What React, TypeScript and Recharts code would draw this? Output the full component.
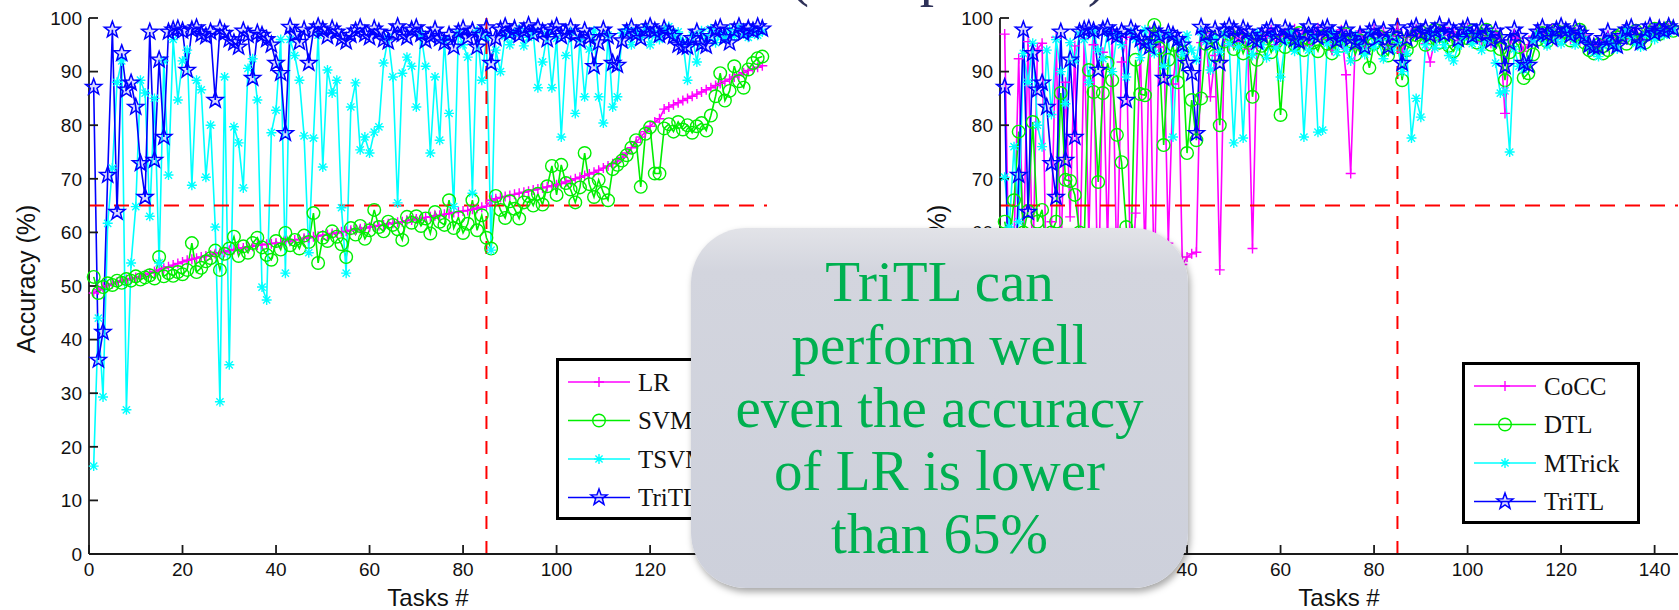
import { LineChart, Line, XAxis, YAxis, ReferenceLine, Legend, Label } from 'recharts';

// accuracy (%) per task, tasks sorted by LR accuracy
const lrLeft = [
  48.7, 49.3, 49.8, 50.1, 50.4, 50.7, 51.0, 51.2, 51.4, 51.6,
  51.8, 52.1, 52.4, 52.7, 53.0, 53.3, 53.6, 53.9, 54.2, 54.5,
  54.8, 55.0, 55.2, 55.4, 55.6, 55.8, 56.0, 56.2, 56.4, 56.6,
  56.8, 57.0, 57.1, 57.3, 57.4, 57.6, 57.7, 57.8, 57.9, 58.0,
  58.1, 58.3, 58.4, 58.6, 58.7, 58.9, 59.0, 59.2, 59.3, 59.5,
  59.6, 59.8, 59.9, 60.1, 60.2, 60.4, 60.5, 60.7, 60.8, 61.0,
  61.1, 61.3, 61.4, 61.6, 61.7, 61.9, 62.0, 62.2, 62.3, 62.5,
  62.6, 62.8, 62.9, 63.1, 63.2, 63.4, 63.5, 63.7, 63.8, 64.0,
  64.1, 64.3, 64.5, 64.7, 64.9, 66.0, 66.3, 66.5, 66.7, 66.9,
  67.1, 67.3, 67.5, 67.7, 67.9, 68.1, 68.3, 68.5, 68.7, 68.9,
  69.1, 69.4, 69.7, 70.0, 70.3, 70.6, 70.9, 71.2, 71.6, 72.0,
  72.4, 72.8, 73.3, 74.0, 74.8, 75.8, 76.8, 77.8, 78.8, 79.8,
  80.6, 81.2, 83.0, 83.4, 83.8, 84.2, 84.6, 85.0, 85.4, 85.8,
  86.2, 86.6, 87.0, 87.4, 87.8, 88.2, 88.6, 89.0, 89.4, 89.8,
  90.2, 90.5, 90.8, 91.1,
];

const svmLeft = [
  51.7, 48.7, 49.8, 50.5, 50.2, 51.0, 50.6, 51.3, 51.0, 51.8,
  51.2, 51.6, 52.0, 51.4, 55.4, 51.8, 52.4, 51.9, 52.6, 52.2,
  53.0, 58.0, 52.6, 53.4, 54.6, 55.2, 56.6, 53.0, 56.0, 57.0,
  59.2, 55.6, 57.4, 56.2, 58.0, 59.0, 57.2, 55.8, 54.9, 58.4,
  56.8, 59.9, 57.6, 58.6, 57.0, 59.4, 58.2, 63.6, 54.3, 59.0,
  58.4, 60.2, 59.2, 57.8, 55.4, 60.8, 59.6, 61.2, 58.8, 60.4,
  64.2, 61.0, 60.2, 62.0, 61.4, 60.6, 58.6, 62.9, 61.8, 63.0,
  61.2, 62.6, 59.8, 63.8, 62.0, 61.4, 66.0, 60.8, 62.8, 59.9,
  61.6, 66.0, 60.4, 63.2, 59.0, 57.0, 66.8, 64.2, 62.7, 65.8,
  64.4, 62.6, 65.6, 66.8, 65.0, 67.2, 65.2, 68.6, 72.4, 67.0,
  72.6, 69.2, 68.0, 65.6, 68.4, 74.8, 69.0, 66.6, 69.8, 67.4,
  66.0, 71.8, 72.6, 73.4, 74.4, 75.8, 77.2, 68.5, 78.4, 79.6,
  71.0, 71.0, 79.4, 80.2, 78.8, 80.6, 79.2, 80.0, 78.6, 79.8,
  80.4, 79.0, 81.8, 85.4, 89.7, 84.6, 86.4, 91.0, 88.2, 87.0,
  90.4, 91.6, 92.5, 92.8,
];

const tsvmLeft = [
  16.4, 44.0, 29.3, 61.7, 72.0, 88.0, 92.0, 26.9, 54.3, 64.8,
  88.4, 86.0, 63.0, 85.0, 54.3, 92.0, 70.7, 96.0, 84.7, 92.0,
  94.0, 68.8, 88.4, 86.6, 70.3, 80.0, 61.0, 28.4, 89.0, 35.3,
  79.7, 76.7, 68.3, 90.6, 92.4, 84.7, 49.8, 47.4, 78.6, 82.8,
  96.0, 52.4, 96.0, 93.0, 88.4, 78.0, 56.2, 77.6, 96.8, 72.2,
  90.3, 86.0, 88.4, 64.6, 52.4, 83.4, 87.9, 75.4, 77.8, 74.8,
  78.7, 79.7, 91.6, 96.4, 89.0, 65.5, 89.7, 92.7, 91.0, 83.4,
  97.0, 91.0, 74.8, 89.0, 77.2, 95.8, 82.2, 64.8, 97.2, 95.0,
  92.7, 67.3, 97.6, 88.4, 96.4, 56.7, 94.0, 90.0, 96.6, 95.0,
  97.2, 98.0, 94.8, 96.4, 97.4, 87.0, 91.8, 97.0, 87.0, 96.2,
  77.8, 93.0, 97.4, 82.2, 96.0, 85.3, 94.2, 97.6, 85.3, 80.4,
  96.8, 83.4, 85.3, 97.2, 98.0, 95.0, 97.6, 96.4, 98.2, 95.0,
  97.2, 96.0, 97.8, 98.4, 96.6, 97.4, 95.6, 88.4, 96.8, 91.8,
  97.6, 96.2, 98.0, 95.4, 97.0, 96.2, 97.8, 96.6, 98.2, 97.0,
  96.4, 97.6, 96.8, 97.4,
];

const tritl = [
  87.1, 36.2, 41.4, 70.7, 97.8, 63.8, 93.4, 86.6, 87.9, 83.4,
  72.9, 66.6, 97.4, 73.5, 92.2, 77.8, 97.4, 97.8, 98.0, 97.6,
  90.3, 97.8, 98.2, 97.0, 96.6, 97.4, 84.7, 98.0, 97.2, 96.0,
  95.4, 94.6, 97.6, 96.8, 88.8, 97.2, 96.8, 96.0, 95.0, 91.6,
  89.7, 78.5, 98.3, 97.0, 95.5, 97.8, 91.6, 97.6, 98.4, 97.8,
  96.6, 98.0, 97.4, 96.2, 95.6, 96.8, 97.6, 98.2, 97.0, 96.4,
  98.0, 97.4, 96.0, 95.6, 97.2, 98.4, 97.0, 96.4, 97.8, 98.2,
  97.0, 95.8, 96.6, 97.8, 96.2, 95.4, 96.8, 94.6, 97.4, 98.0,
  96.4, 97.6, 94.6, 96.8, 98.2, 91.6, 96.2, 97.8, 98.4, 97.2,
  98.0, 96.8, 97.6, 98.6, 97.0, 98.2, 97.4, 96.0, 97.8, 98.4,
  96.6, 97.2, 98.2, 97.0, 95.8, 97.6, 96.4, 91.0, 95.4, 97.8,
  96.6, 91.6, 91.2, 95.8, 97.4, 98.2, 97.0, 96.2, 97.8, 98.4,
  97.6, 96.8, 98.0, 97.2, 96.6, 95.0, 94.6, 94.6, 96.2, 97.4,
  95.2, 94.8, 96.6, 97.8, 98.2, 96.4, 95.4, 97.6, 98.4, 97.2,
  98.0, 97.6, 98.4, 98.0,
];

const coccRight = [
  97.0, 48.0, 58.0, 92.4, 56.0, 95.6, 52.0, 94.2, 95.3, 46.0,
  62.0, 96.4, 54.0, 88.0, 62.9, 94.8, 50.0, 96.2, 59.0, 95.0,
  44.0, 93.6, 58.0, 97.0, 52.0, 91.8, 96.4, 48.0, 63.6, 95.2,
  55.0, 97.6, 50.0, 94.6, 96.8, 58.0, 87.7, 96.0, 54.0, 55.4,
  56.0, 56.3, 95.4, 97.2, 85.3, 93.0, 53.0, 96.6, 94.8, 97.2,
  95.6, 96.8, 94.2, 57.0, 95.8, 97.4, 96.2, 97.8, 95.0, 96.6,
  97.2, 95.8, 98.0, 96.4, 97.6, 94.8, 97.0, 98.2, 96.0, 97.4,
  94.0, 96.8, 97.8, 89.4, 71.0, 96.2, 97.6, 95.4, 96.8, 98.0,
  96.2, 97.4, 95.0, 96.6, 97.8, 93.6, 96.4, 97.2, 98.0, 96.6,
  95.2, 91.8, 96.0, 97.6, 98.2, 96.8, 97.4, 95.8, 97.0, 98.2,
  96.4, 97.6, 95.6, 96.8, 95.3, 97.2, 96.0, 82.2, 94.8, 97.0,
  96.2, 93.8, 95.0, 96.6, 97.8, 96.4, 97.2, 98.0, 95.6, 96.8,
  97.6, 96.0, 97.4, 95.5, 96.8, 94.6, 95.4, 94.2, 95.8, 96.8,
  95.2, 96.4, 97.6, 96.0, 97.2, 98.0, 96.2, 97.4, 98.2, 97.0,
  98.4, 97.6, 98.2, 97.8,
];

const dtlRight = [
  62.0, 58.0, 66.0, 78.8, 60.0, 64.0, 80.6, 62.0, 64.2, 56.0,
  60.0, 62.0, 86.0, 69.8, 69.6, 67.0, 60.0, 58.0, 90.3, 86.2,
  69.4, 86.0, 91.6, 88.4, 78.2, 73.1, 61.0, 56.0, 92.2, 85.8,
  85.6, 95.0, 98.7, 94.4, 76.3, 92.2, 95.0, 88.0, 93.6, 74.8,
  84.7, 77.2, 85.0, 95.2, 96.4, 93.0, 80.0, 95.6, 97.0, 94.2,
  96.0, 93.4, 95.8, 85.3, 92.2, 94.8, 96.2, 93.6, 95.4, 81.9,
  94.6, 96.4, 95.0, 97.2, 94.0, 96.2, 95.4, 93.8, 96.6, 95.2,
  93.4, 96.0, 94.8, 97.0, 95.6, 93.2, 95.8, 94.4, 90.7, 95.2,
  96.6, 94.0, 93.0, 95.8, 96.4, 88.4, 94.0, 95.6, 96.8, 97.4,
  95.0, 96.2, 97.8, 95.4, 96.6, 94.8, 93.8, 95.6, 97.0, 96.2,
  97.6, 95.4, 96.8, 97.8, 95.0, 96.4, 94.2, 88.4, 93.6, 95.8,
  94.6, 88.8, 89.7, 93.2, 96.0, 97.2, 95.6, 96.8, 97.6, 96.2,
  97.4, 95.8, 96.6, 97.8, 95.4, 94.0, 93.4, 95.0, 93.4, 94.0,
  95.6, 96.4, 97.0, 95.2, 96.2, 97.6, 96.0, 95.4, 97.2, 98.0,
  97.0, 97.8, 98.2, 97.6,
];

const mtrickRight = [
  70.3, 61.0, 76.0, 62.0, 93.4, 88.0, 95.3, 80.0, 76.0, 94.0,
  82.0, 96.0, 90.0, 84.0, 95.4, 92.0, 97.0, 96.0, 88.0, 97.6,
  94.0, 92.4, 97.2, 90.0, 96.8, 95.0, 89.0, 97.4, 96.0, 92.6,
  97.8, 95.0, 93.4, 96.6, 91.0, 97.0, 77.8, 95.6, 93.2, 96.8,
  94.0, 92.2, 97.4, 95.6, 90.3, 96.2, 93.6, 97.0, 95.2, 76.7,
  94.6, 77.6, 96.4, 93.0, 97.2, 95.0, 92.6, 96.8, 94.4, 89.0,
  95.6, 97.4, 93.8, 96.2, 77.8, 94.0, 96.6, 78.7, 79.1, 95.2,
  97.2, 93.6, 96.0, 94.2, 92.0, 96.8, 95.0, 93.2, 97.0, 94.6,
  95.8, 92.4, 96.4, 94.0, 95.6, 90.0, 93.4, 77.6, 85.0, 81.5,
  95.0, 97.2, 94.4, 96.6, 95.0, 93.0, 92.0, 94.8, 96.4, 97.6,
  95.2, 96.8, 94.0, 95.6, 97.0, 91.6, 86.0, 86.4, 75.0, 94.2,
  91.0, 90.4, 92.0, 95.8, 97.0, 96.2, 94.8, 97.4, 96.0, 95.2,
  97.6, 96.6, 95.0, 97.2, 96.0, 94.4, 93.6, 92.8, 94.8, 96.2,
  95.0, 94.2, 96.6, 97.8, 96.4, 95.2, 94.6, 96.8, 97.4, 96.0,
  97.6, 96.8, 97.2, 97.8,
];

const xTicks = [0, 20, 40, 60, 80, 100, 120, 140];
const yTicks = [0, 10, 20, 30, 40, 50, 60, 70, 80, 90, 100];
const calloutLines = ['TriTL can', 'perform well', 'even the accuracy', 'of LR is lower', 'than 65%'];

const tasks = lrLeft.map((_, i) => i + 1);
const leftData = tasks.map((t, i) => ({ task: t, LR: lrLeft[i], SVM: svmLeft[i], TSVM: tsvmLeft[i], TriTL: tritl[i] }));
const rightData = tasks.map((t, i) => ({ task: t, CoCC: coccRight[i], DTL: dtlRight[i], MTrick: mtrickRight[i], TriTL: tritl[i] }));

const leftSeries = [
  { key: 'LR', color: '#ff00ff', shape: 'plus' },
  { key: 'SVM', color: '#00ee00', shape: 'circle' },
  { key: 'TSVM', color: '#00ffff', shape: 'aster' },
  { key: 'TriTL', color: '#0000ff', shape: 'star' },
];
const rightSeries = [
  { key: 'CoCC', color: '#ff00ff', shape: 'plus' },
  { key: 'DTL', color: '#00ee00', shape: 'circle' },
  { key: 'MTrick', color: '#00ffff', shape: 'aster' },
  { key: 'TriTL', color: '#0000ff', shape: 'star' },
];

const sans = '"Liberation Sans", Arial, sans-serif';
const serif = '"Liberation Serif", "Times New Roman", serif';
const axisStroke = { stroke: '#1a1a1a', strokeWidth: 1.8 };

function Marker({ shape, cx, cy, color }: any) {
  if (cx == null || cy == null) return null;
  if (shape === 'plus') {
    return <path d={`M${cx - 5},${cy}H${cx + 5}M${cx},${cy - 5}V${cy + 5}`} stroke={color} strokeWidth={1.4} fill="none" />;
  }
  if (shape === 'circle') {
    return <circle cx={cx} cy={cy} r={6.3} stroke={color} strokeWidth={1.4} fill="none" />;
  }
  if (shape === 'aster') {
    const d = 3.6;
    return (
      <path
        d={`M${cx - 5},${cy}H${cx + 5}M${cx},${cy - 5}V${cy + 5}M${cx - d},${cy - d}L${cx + d},${cy + d}M${cx - d},${cy + d}L${cx + d},${cy - d}`}
        stroke={color}
        strokeWidth={1.4}
        fill="none"
      />
    );
  }
  const pts = [];
  for (let k = 0; k < 10; k++) {
    const r = k % 2 === 0 ? 8.5 : 3.5;
    const a = -Math.PI / 2 + (k * Math.PI) / 5;
    pts.push(`${(cx + r * Math.cos(a)).toFixed(2)},${(cy + r * Math.sin(a)).toFixed(2)}`);
  }
  return <polygon points={pts.join(' ')} stroke={color} strokeWidth={1.5} fill="rgba(0,0,255,0.15)" />;
}

function LegendBox({ series }: any) {
  return (
    <div style={{ width: 172, height: 156, border: '3.5px solid #000', background: '#fff' }}>
      <svg width={172} height={156}>
        {series.map((s: any, i: number) => {
          const cy = 21 + i * 38.5;
          return (
            <g key={s.key}>
              <line x1={9} x2={71} y1={cy} y2={cy} stroke={s.color} strokeWidth={1.6} />
              <Marker shape={s.shape} cx={40} cy={cy} color={s.color} />
              <text x={79} y={cy} dominantBaseline="central" fontFamily={serif} fontSize={25} fill="#111">
                {s.key}
              </text>
            </g>
          );
        })}
      </svg>
    </div>
  );
}

function Panel({ data, series, left, legendLeft, legendTop }: any) {
  return (
    <div style={{ position: 'absolute', left, top: 0 }}>
      <LineChart width={779} height={610} data={data} margin={{ top: 18, right: 12, bottom: 26, left: 0 }}>
        <XAxis
          dataKey="task"
          type="number"
          domain={[0, 145]}
          ticks={xTicks}
          interval={0}
          height={30}
          tickSize={-9}
          tickMargin={18}
          axisLine={axisStroke}
          tickLine={axisStroke}
          tick={{ fontFamily: sans, fontSize: 19, fill: '#111' }}
        >
          <Label
            content={({ viewBox }: any) => (
              <text x={viewBox.x + viewBox.width / 2} y={viewBox.y + 43} textAnchor="middle" dominantBaseline="central" fontFamily={sans} fontSize={24} fill="#111">
                Tasks #
              </text>
            )}
          />
        </XAxis>
        <XAxis
          xAxisId="top"
          orientation="top"
          type="number"
          domain={[0, 145]}
          ticks={xTicks}
          interval={0}
          height={0}
          tickSize={-9}
          axisLine={axisStroke}
          tickLine={axisStroke}
          tickFormatter={() => ''}
        />
        <YAxis
          type="number"
          domain={[0, 100]}
          ticks={yTicks}
          interval={0}
          width={89}
          tickSize={-9}
          tickMargin={16}
          axisLine={axisStroke}
          tickLine={axisStroke}
          tick={{ fontFamily: sans, fontSize: 19, fill: '#111' }}
        >
          <Label
            content={({ viewBox }: any) => {
              const x = viewBox.x + 26;
              const y = viewBox.y + viewBox.height / 2 - 7;
              return (
                <text x={x} y={y} transform={`rotate(-90 ${x} ${y})`} textAnchor="middle" dominantBaseline="central" fontFamily={sans} fontSize={25} fill="#111">
                  Accuracy (%)
                </text>
              );
            }}
          />
        </YAxis>
        <YAxis
          yAxisId="right"
          orientation="right"
          type="number"
          domain={[0, 100]}
          ticks={yTicks}
          interval={0}
          width={0}
          tickSize={-9}
          axisLine={axisStroke}
          tickLine={axisStroke}
          tickFormatter={() => ''}
        />
        {series.map((s: any) => (
          <Line
            key={s.key}
            dataKey={s.key}
            stroke={s.color}
            strokeWidth={1.6}
            isAnimationActive={false}
            activeDot={false}
            dot={(p: any) => <Marker key={p.index} shape={s.shape} cx={p.cx} cy={p.cy} color={s.color} />}
          />
        ))}
        <ReferenceLine y={65} stroke="#ff0000" strokeWidth={2} strokeDasharray="15 10" />
        <ReferenceLine x={85} stroke="#ff0000" strokeWidth={2} strokeDasharray="13 12" />
        <Legend
          layout="vertical"
          align="center"
          verticalAlign="middle"
          content={() => <LegendBox series={series} />}
          wrapperStyle={{ left: legendLeft, top: legendTop, width: 179, height: 163 }}
        />
      </LineChart>
    </div>
  );
}

export default function App() {
  return (
    <div style={{ position: 'absolute', left: 0, top: 0, width: 1679, height: 610, overflow: 'hidden', background: '#fff' }}>
      <Panel data={leftData} series={leftSeries} left={0} legendLeft={556} legendTop={358} />
      <Panel data={rightData} series={rightSeries} left={911} legendLeft={551} legendTop={362} />
      <div
        style={{
          position: 'absolute',
          left: 790,
          top: -56,
          fontFamily: serif,
          fontSize: 57,
          lineHeight: '63px',
          color: '#2e3158',
          whiteSpace: 'nowrap',
        }}
      >
        (Comparison)
      </div>
      <div
        style={{
          position: 'absolute',
          left: 691,
          top: 228,
          width: 497,
          height: 360,
          borderRadius: 55,
          background: 'linear-gradient(180deg, #e2e3e8 0%, #d3d5de 12%, #cdd0db 100%)',
          boxShadow: '2px 4px 7px rgba(0,0,0,0.35)',
          boxSizing: 'border-box',
          paddingTop: 22,
          textAlign: 'center',
          fontFamily: serif,
          fontSize: 57,
          lineHeight: '63px',
          color: '#00b050',
          zIndex: 5,
        }}
      >
        {calloutLines.map((l) => (
          <div key={l} style={{ whiteSpace: 'nowrap' }}>{l}</div>
        ))}
      </div>
    </div>
  );
}
